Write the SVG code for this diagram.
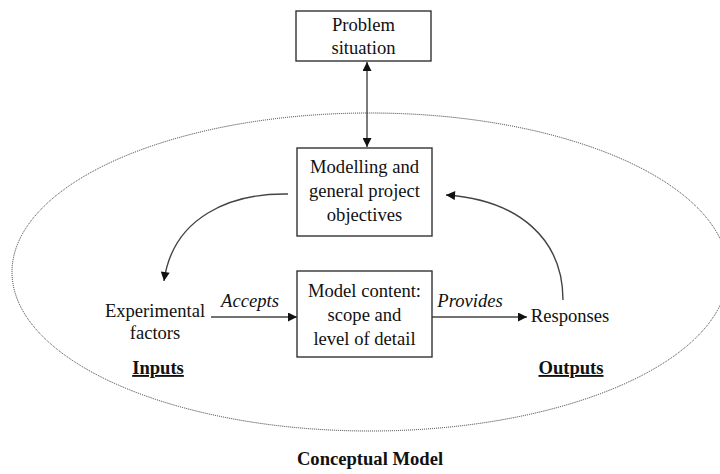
<svg xmlns="http://www.w3.org/2000/svg" width="720" height="474" viewBox="0 0 720 474">
<style>
text{font-family:"Liberation Serif","Times New Roman",serif;font-size:18.6px;fill:#111;text-anchor:middle}
.it{font-style:italic}
.b{font-weight:bold;text-decoration:underline}
.box{fill:#fff;stroke:#333;stroke-width:1.4}
.con{fill:none;stroke:#444;stroke-width:1.4}
</style>
<defs>
<marker id="ah" viewBox="0 0 10 10" refX="10" refY="5" markerWidth="10" markerHeight="9" markerUnits="userSpaceOnUse" orient="auto-start-reverse">
<path d="M0,0 L10,5 L0,10 z" fill="#111"/>
</marker>
</defs>
<rect width="720" height="474" fill="#fff"/>
<ellipse cx="370" cy="272" rx="358" ry="159" fill="none" stroke="#333" stroke-width="1" stroke-dasharray="1 1"/>
<g id="connectors">
<line class="con" x1="367" y1="62" x2="367" y2="147" marker-start="url(#ah)" marker-end="url(#ah)"/>
<path class="con" d="M288 194 C 232 193 173 216 164 281" marker-end="url(#ah)"/>
<path class="con" d="M563 300 C 563 240 520 200 446 195" marker-end="url(#ah)"/>
<line class="con" x1="211" y1="317" x2="297" y2="317" marker-end="url(#ah)"/>
<line class="con" x1="432" y1="317" x2="527" y2="317" marker-end="url(#ah)"/>
<text class="it" x="250" y="307">Accepts</text>
<text class="it" x="470" y="307">Provides</text>
</g>
<g id="problem">
<rect class="box" x="296" y="11" width="135" height="50"/>
<text x="363.5" y="31">Problem</text>
<text x="363.5" y="54">situation</text>
</g>
<g id="objectives">
<rect class="box" x="297" y="148" width="135" height="88"/>
<text x="364.5" y="173">Modelling and</text>
<text x="364.5" y="197">general project</text>
<text x="364.5" y="221">objectives</text>
</g>
<g id="content">
<rect class="box" x="297" y="271" width="135" height="86"/>
<text x="364.5" y="297">Model content:</text>
<text x="364.5" y="321">scope and</text>
<text x="364.5" y="345">level of detail</text>
</g>
<g id="factors">
<text x="155" y="317">Experimental</text>
<text x="155" y="339">factors</text>
</g>
<g id="responses">
<text x="570" y="322">Responses</text>
</g>
<g id="labels">
<text class="b" x="158" y="374">Inputs</text>
<text class="b" x="571" y="374">Outputs</text>
<text style="font-weight:bold" x="370" y="465">Conceptual Model</text>
</g>
</svg>
